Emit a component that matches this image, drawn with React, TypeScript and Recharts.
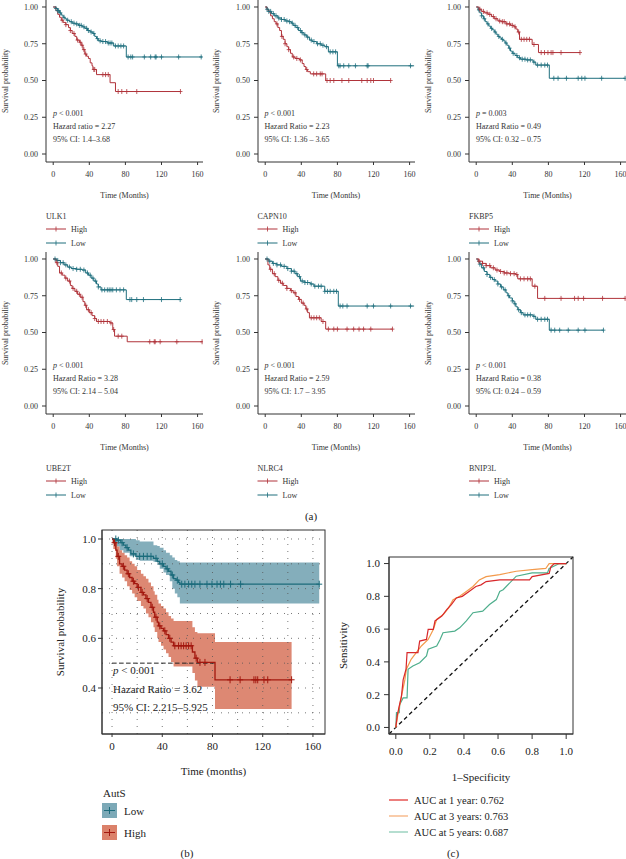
import React from 'react';
import { ComposedChart, Line, Scatter, Area, XAxis, YAxis, ReferenceLine } from 'recharts';

const SERIF = "'Liberation Serif', 'DejaVu Serif', 'Times New Roman', serif";
const RED = '#B0333A';
const TEAL = '#1E6E7D';
const B_RED = '#A3180F';
const B_TEAL = '#1B6B7B';
const B_RED_FILL = '#D7735A';
const B_TEAL_FILL = '#6EA0AF';
const ROC_COLORS = ['#D8282B', '#F39A4B', '#4EAE8C'];
const ROC_KEY_COLORS = ['#E23A36', '#F6B07C', '#8DCDB7'];

const kmTicksX = [0, 40, 80, 120, 160];
const kmTicksY = [0, 0.25, 0.5, 0.75, 1];
const bTicksY = [0.4, 0.6, 0.8, 1.0];
const bGridX = [0, 20, 40, 60, 80, 100, 120, 140, 160];
const bGridY = [0.3, 0.4, 0.5, 0.6, 0.7, 0.8, 0.9, 1.0];
const rocTicks = [0, 0.2, 0.4, 0.6, 0.8, 1.0];

// ---- ULK1 ----
const ulk1HighT = [0, 3, 5, 7, 9, 11, 14, 17, 19, 21, 24, 26, 29, 31, 33, 35, 37, 39, 41, 43, 44, 48, 63, 69, 141];
const ulk1HighS = [1, 0.975, 0.95, 0.93, 0.91, 0.895, 0.88, 0.86, 0.84, 0.82, 0.8, 0.775, 0.76, 0.74, 0.71, 0.68, 0.665, 0.65, 0.62, 0.6, 0.575, 0.54, 0.485, 0.425, 0.425];
const ulk1LowT = [0, 3, 5, 7, 9, 11, 13, 15, 18, 21, 24, 28, 32, 35, 38, 41, 44, 46, 48, 50, 53, 60, 67, 81, 165];
const ulk1LowS = [1, 0.99, 0.975, 0.96, 0.945, 0.93, 0.92, 0.91, 0.9, 0.89, 0.885, 0.875, 0.865, 0.855, 0.84, 0.83, 0.82, 0.8, 0.785, 0.77, 0.765, 0.755, 0.735, 0.66, 0.66];
const ulk1HighC = [10, 14, 19, 23, 27, 30, 32, 34, 36, 45, 46, 55, 58, 61, 72, 76, 81.5, 92.6, 141];
const ulk1LowC = [3, 5, 6, 8, 12, 16, 20, 23, 26, 29, 31, 34, 37, 39, 42, 45, 49, 52, 55, 58, 61, 63, 65, 69, 72, 75, 78, 83, 86, 88, 101, 108, 113, 114, 120, 139, 164];

// ---- CAPN10 ----
const capnHighT = [0, 2, 4, 6, 8, 10, 12, 14, 16, 18, 20, 22, 24, 26, 28, 30, 33, 38, 41, 43, 45, 47, 50, 67, 139];
const capnHighS = [1, 0.98, 0.965, 0.94, 0.92, 0.9, 0.885, 0.86, 0.84, 0.8, 0.78, 0.75, 0.73, 0.71, 0.685, 0.66, 0.65, 0.64, 0.615, 0.595, 0.575, 0.56, 0.545, 0.5, 0.5];
const capnLowT = [0, 2, 4, 7, 10, 14, 18, 22, 26, 29, 31, 34, 37, 40, 43, 46, 49, 52, 57, 62, 66, 70, 80, 165];
const capnLowS = [1, 0.985, 0.97, 0.955, 0.94, 0.925, 0.915, 0.905, 0.9, 0.89, 0.875, 0.86, 0.84, 0.825, 0.81, 0.795, 0.775, 0.765, 0.75, 0.74, 0.73, 0.695, 0.6, 0.6];
const capnHighC = [13, 18.5, 22, 26, 31.5, 35, 39, 46, 53.7, 57, 61, 63, 68.5, 72, 76, 85, 92.6, 107, 113, 117, 120, 139];
const capnLowC = [2, 4, 6, 9, 12, 15, 18, 21, 24, 27, 30, 33, 36, 39, 41, 44, 47, 51, 54, 58, 61, 64, 68, 72, 75, 78, 81.5, 83, 87, 92.6, 100, 113, 114, 161];

// ---- FKBP5 ----
const fkbpHighT = [0, 3, 6, 9, 13, 17, 20, 24, 28, 33, 38, 42, 44, 46, 48, 62, 69, 115];
const fkbpHighS = [1, 0.985, 0.97, 0.96, 0.95, 0.935, 0.92, 0.905, 0.9, 0.885, 0.875, 0.865, 0.85, 0.83, 0.78, 0.745, 0.69, 0.69];
const fkbpLowT = [0, 2, 4, 6, 8, 10, 12, 14, 16, 18, 20, 22, 24, 26, 28, 30, 32, 34, 36, 38, 40, 43, 46, 49, 55, 63, 66, 81, 165];
const fkbpLowS = [1, 0.98, 0.96, 0.94, 0.92, 0.9, 0.885, 0.87, 0.855, 0.845, 0.83, 0.815, 0.8, 0.79, 0.78, 0.77, 0.755, 0.74, 0.72, 0.7, 0.685, 0.67, 0.655, 0.645, 0.64, 0.625, 0.605, 0.515, 0.515];
const fkbpHighC = [4, 8, 12, 15, 19, 22, 26, 29, 31, 34, 37, 40, 43, 47, 50, 53, 56, 59, 64, 72, 75.7, 79.5, 83, 85, 94, 115];
const fkbpLowC = [3, 6, 9, 13, 17, 21, 25, 29, 33, 37, 41, 45, 48, 51, 54, 57, 60, 64, 68, 72, 76, 79, 86, 90.7, 100, 113, 117, 120.5, 139, 165];

// ---- UBE2T ----
const ubeHighT = [0, 3, 5, 7, 10, 13, 16, 19, 21, 24, 27, 30, 33, 35, 37, 40, 43, 46, 48, 63, 66, 68, 82, 165];
const ubeHighS = [1, 0.975, 0.95, 0.905, 0.89, 0.87, 0.85, 0.82, 0.8, 0.78, 0.76, 0.74, 0.71, 0.685, 0.655, 0.635, 0.615, 0.595, 0.575, 0.565, 0.52, 0.475, 0.437, 0.437];
const ubeLowT = [0, 4, 8, 12, 16, 20, 26, 32, 36, 39, 42, 45, 48, 50, 53, 81, 141];
const ubeLowS = [1, 0.99, 0.975, 0.96, 0.945, 0.935, 0.93, 0.925, 0.905, 0.89, 0.87, 0.85, 0.83, 0.81, 0.79, 0.724, 0.724];
const ubeHighC = [4, 9, 14, 18, 22, 26, 29, 32, 36, 39, 42, 46, 50, 53, 56, 60, 64, 67, 72, 76, 107, 112, 113, 118.5, 137, 165];
const ubeLowC = [2, 5, 8, 11, 14, 18, 22, 26, 30, 34, 38, 41, 44, 47, 50, 54, 57, 60, 62, 64, 66, 70, 74, 78, 85, 87, 92.6, 100, 120, 140.7];

// ---- NLRC4 ----
const nlrcHighT = [0, 3, 5, 8, 11, 14, 17, 20, 24, 28, 31, 34, 37, 40, 43, 45, 47, 49, 62, 67, 141];
const nlrcHighS = [1, 0.96, 0.93, 0.9, 0.88, 0.855, 0.835, 0.82, 0.8, 0.785, 0.77, 0.745, 0.725, 0.7, 0.685, 0.66, 0.635, 0.6, 0.575, 0.523, 0.523];
const nlrcLowT = [0, 4, 8, 13, 18, 24, 29, 33, 36, 39, 44, 50, 54, 66, 81, 165];
const nlrcLowS = [1, 0.985, 0.97, 0.96, 0.95, 0.935, 0.917, 0.9, 0.88, 0.85, 0.84, 0.83, 0.815, 0.78, 0.68, 0.68];
const nlrcHighC = [6, 10, 15, 19, 24, 29, 33, 38, 42, 46, 51, 54, 57, 60, 64, 70, 76, 80, 90.7, 98, 104, 109, 117, 141];
const nlrcLowC = [2, 5, 9, 13, 17, 21, 25, 29, 32, 35, 38, 41, 44, 47, 51, 55, 59, 62, 66, 69, 72, 76, 79, 83, 86, 90.7, 113, 120, 139, 161];

// ---- BNIP3L ----
const bnipHighT = [0, 3, 7, 11, 16, 21, 26, 31, 37, 44, 46, 62, 68, 165];
const bnipHighS = [1, 0.985, 0.97, 0.955, 0.94, 0.925, 0.915, 0.905, 0.9, 0.894, 0.865, 0.815, 0.732, 0.732];
const bnipLowT = [0, 2, 4, 6, 9, 12, 15, 18, 21, 24, 27, 30, 33, 35, 37, 40, 42, 44, 46, 49, 52, 63, 66, 81, 141];
const bnipLowS = [1, 0.98, 0.965, 0.94, 0.915, 0.895, 0.875, 0.86, 0.85, 0.83, 0.81, 0.79, 0.77, 0.75, 0.735, 0.715, 0.695, 0.675, 0.655, 0.635, 0.62, 0.61, 0.59, 0.516, 0.516];
const bnipHighC = [3, 7, 11, 15, 19, 23, 27, 31, 34, 38, 42, 45, 49, 53, 57, 60, 65, 76, 94, 109, 113, 119, 140, 165];
const bnipLowC = [4, 8, 12, 16, 20, 24, 28, 32, 36, 40, 43, 47, 50, 54, 57, 60, 64, 68, 72, 76, 79, 83, 87, 92.5, 102, 113, 120.5, 141];

// ---- AutS (panel b) ----
const autsLowT = [0, 4, 7, 9, 11, 13, 15, 19, 33, 36, 38, 41, 43, 45, 47, 49, 51, 53, 54, 165];
const autsLowS = [1, 0.995, 0.985, 0.975, 0.965, 0.955, 0.94, 0.93, 0.922, 0.91, 0.9, 0.89, 0.88, 0.87, 0.855, 0.84, 0.834, 0.825, 0.818, 0.818];
const autsLowBandT = [0, 3, 6, 9, 14, 19, 22, 33, 36, 38, 41, 43, 46, 48, 50, 52, 54, 165];
const autsLowBandLo = [1, 0.97, 0.955, 0.945, 0.93, 0.915, 0.912, 0.908, 0.895, 0.88, 0.865, 0.855, 0.83, 0.8, 0.78, 0.765, 0.74, 0.74];
const autsLowBandHi = [1, 1, 1, 1, 1, 0.995, 0.99, 0.975, 0.972, 0.965, 0.955, 0.945, 0.935, 0.925, 0.915, 0.91, 0.905, 0.905];
const autsHighT = [0, 1, 3, 4, 6, 8, 10, 12, 14, 16, 18, 20, 23, 25, 27, 29, 31, 33, 34, 36, 37, 39, 41, 43, 45, 47, 49, 64, 66, 68, 82, 143];
const autsHighS = [1, 0.985, 0.955, 0.93, 0.9, 0.89, 0.875, 0.86, 0.845, 0.83, 0.82, 0.805, 0.785, 0.775, 0.76, 0.745, 0.725, 0.705, 0.685, 0.665, 0.65, 0.64, 0.63, 0.615, 0.6, 0.585, 0.57, 0.545, 0.52, 0.503, 0.433, 0.433];
const autsHighHi = [1, 1, 0.985, 0.97, 0.955, 0.945, 0.935, 0.925, 0.91, 0.9, 0.89, 0.875, 0.86, 0.85, 0.84, 0.825, 0.81, 0.79, 0.775, 0.755, 0.74, 0.73, 0.72, 0.705, 0.69, 0.68, 0.67, 0.645, 0.625, 0.62, 0.585, 0.585];
const autsHighLo = [1, 0.96, 0.92, 0.89, 0.86, 0.845, 0.83, 0.81, 0.795, 0.78, 0.765, 0.75, 0.73, 0.72, 0.7, 0.685, 0.665, 0.645, 0.625, 0.6, 0.585, 0.57, 0.555, 0.54, 0.525, 0.505, 0.487, 0.46, 0.43, 0.405, 0.315, 0.315];
const autsLowC = [3, 5, 8, 12, 17, 22, 25, 28, 31, 35, 40, 44, 48, 52, 55.5, 58, 61, 63.5, 66, 70, 75.6, 79.6, 83.6, 86.3, 89, 94.4, 102.4, 165];
const autsHighC = [2, 5, 9, 13, 17, 21, 24, 28, 32, 35, 38, 42, 46, 50, 53, 55, 57, 59, 61, 63, 67, 70, 74, 94, 102, 113, 114.5, 116, 121, 124, 143];
const autsMedian = 81;

// ---- ROC (panel c) ----
const roc1F = [0, 0.008, 0.02, 0.033, 0.043, 0.06, 0.066, 0.13, 0.14, 0.18, 0.19, 0.22, 0.23, 0.27, 0.3, 0.326, 0.355, 0.39, 0.43, 0.47, 0.5, 0.53, 0.61, 0.785, 0.8, 0.9, 0.91, 0.93, 1];
const roc1T = [0, 0.07, 0.13, 0.19, 0.29, 0.355, 0.456, 0.456, 0.527, 0.537, 0.598, 0.598, 0.65, 0.68, 0.72, 0.75, 0.79, 0.8, 0.83, 0.86, 0.87, 0.89, 0.9, 0.9, 0.92, 0.94, 0.98, 1.0, 1];
const roc3F = [0, 0.014, 0.033, 0.053, 0.062, 0.09, 0.12, 0.15, 0.19, 0.22, 0.24, 0.28, 0.31, 0.336, 0.375, 0.414, 0.453, 0.49, 0.53, 0.61, 0.707, 0.8, 0.88, 0.9, 1];
const roc3T = [0, 0.09, 0.19, 0.29, 0.355, 0.416, 0.456, 0.497, 0.537, 0.598, 0.66, 0.69, 0.73, 0.78, 0.8, 0.83, 0.86, 0.9, 0.92, 0.933, 0.953, 0.963, 0.97, 1.0, 1];
const roc5F = [0, 0.004, 0.02, 0.023, 0.043, 0.066, 0.072, 0.1, 0.14, 0.18, 0.19, 0.24, 0.26, 0.277, 0.346, 0.375, 0.414, 0.453, 0.51, 0.55, 0.59, 0.61, 0.63, 0.707, 0.8, 0.89, 0.9, 0.96, 1];
const roc5T = [0, 0.09, 0.09, 0.14, 0.18, 0.18, 0.355, 0.375, 0.395, 0.436, 0.477, 0.497, 0.537, 0.578, 0.588, 0.608, 0.65, 0.7, 0.71, 0.75, 0.78, 0.83, 0.84, 0.923, 0.943, 0.943, 0.97, 1.0, 1];
const rocLabels = ['AUC at 1 year: 0.762', 'AUC at 3 years: 0.763', 'AUC at 5 years: 0.687'];

// ---- helpers ----
const pts = (ts: number[], ss: number[]) => ts.map((t, i) => ({ t, s: ss[i] }));
const stepAt = (ts: number[], ss: number[], t: number) => {
  let v = ss[0];
  for (let i = 0; i < ts.length; i++) if (ts[i] <= t) v = ss[i];
  return v;
};
const censor = (ts: number[], ss: number[], cs: number[]) => cs.map((t) => ({ t, s: stepAt(ts, ss, t) }));

const crossShape = (color: string, w: number, h: number, sw: number) => (props: any) => {
  const { cx, cy } = props;
  if (cx == null || cy == null || isNaN(cx) || isNaN(cy)) return <g />;
  return (
    <path d={`M${cx - w},${cy}L${cx + w},${cy}M${cx},${cy - h}L${cx},${cy + h}`} stroke={color} strokeWidth={sw} fill="none" />
  );
};

const panels = [
  { gene: 'ULK1', col: 0, row: 0, hT: ulk1HighT, hS: ulk1HighS, lT: ulk1LowT, lS: ulk1LowS, hC: ulk1HighC, lC: ulk1LowC, p: '< 0.001', hr: 'Hazard ratio = 2.27', ci: '95% CI: 1.4–3.68' },
  { gene: 'CAPN10', col: 1, row: 0, hT: capnHighT, hS: capnHighS, lT: capnLowT, lS: capnLowS, hC: capnHighC, lC: capnLowC, p: '< 0.001', hr: 'Hazard Ratio = 2.23', ci: '95% CI: 1.36 – 3.65' },
  { gene: 'FKBP5', col: 2, row: 0, hT: fkbpHighT, hS: fkbpHighS, lT: fkbpLowT, lS: fkbpLowS, hC: fkbpHighC, lC: fkbpLowC, p: '= 0.003', hr: 'Hazard Ratio = 0.49', ci: '95% CI: 0.32 – 0.75' },
  { gene: 'UBE2T', col: 0, row: 1, hT: ubeHighT, hS: ubeHighS, lT: ubeLowT, lS: ubeLowS, hC: ubeHighC, lC: ubeLowC, p: '< 0.001', hr: 'Hazard Ratio = 3.28', ci: '95% CI: 2.14 – 5.04' },
  { gene: 'NLRC4', col: 1, row: 1, hT: nlrcHighT, hS: nlrcHighS, lT: nlrcLowT, lS: nlrcLowS, hC: nlrcHighC, lC: nlrcLowC, p: '< 0.001', hr: 'Hazard Ratio = 2.59', ci: '95% CI: 1.7 – 3.95' },
  { gene: 'BNIP3L', col: 2, row: 1, hT: bnipHighT, hS: bnipHighS, lT: bnipLowT, lS: bnipLowS, hC: bnipHighC, lC: bnipLowC, p: '< 0.001', hr: 'Hazard Ratio = 0.38', ci: '95% CI: 0.24 – 0.59' },
];

const COL_X = [0, 211.5, 423];
const ROW_Y = [0, 252];
const KM_W = 212;
const KM_H = 185;
const KM_PL = 46;
const KM_PW = 157;
const KM_PH = 162;
const AX = '#333';

const kmTick = { fontSize: 8, fill: '#333', fontFamily: SERIF };

function KMChart({ p }: { p: any }) {
  const hi = pts(p.hT, p.hS);
  const lo = pts(p.lT, p.lS);
  const hc = censor(p.hT, p.hS, p.hC);
  const lc = censor(p.lT, p.lS, p.lC);
  return (
    <div style={{ position: 'absolute', left: COL_X[p.col], top: ROW_Y[p.row], width: KM_W, height: KM_H }}>
      <ComposedChart width={KM_W} height={KM_H} margin={{ top: 0, right: KM_W - KM_PL - KM_PW, bottom: KM_H - KM_PH - 20, left: 0 }}>
        <XAxis type="number" dataKey="t" domain={[-8, 166]} allowDataOverflow ticks={kmTicksX} interval={0} height={20}
          tickSize={3} tickMargin={6} stroke={AX} tick={kmTick} />
        <YAxis type="number" dataKey="s" domain={[-0.0544, 1.0476]} allowDataOverflow ticks={kmTicksY} interval={0} width={KM_PL}
          tickSize={4} tickMargin={4} stroke={AX} tick={kmTick} tickFormatter={(v: number) => v.toFixed(2)} />
        <Line data={lo} dataKey="s" type="stepAfter" stroke={TEAL} strokeWidth={1} dot={false} isAnimationActive={false} />
        <Line data={hi} dataKey="s" type="stepAfter" stroke={RED} strokeWidth={1} dot={false} isAnimationActive={false} />
        <Scatter data={lc} dataKey="s" shape={crossShape(TEAL, 2, 2.5, 0.8)} isAnimationActive={false} />
        <Scatter data={hc} dataKey="s" shape={crossShape(RED, 2, 2.5, 0.8)} isAnimationActive={false} />
      </ComposedChart>
    </div>
  );
}

function KMText({ p }: { p: any }) {
  const x0 = COL_X[p.col];
  const y0 = ROW_Y[p.row];
  const fs = 8;
  const c = '#333';
  return (
    <g fontFamily={SERIF} fill={c}>
      <text x={x0 + 5} y={y0 + 81} fontSize={fs} textAnchor="middle" dominantBaseline="central" transform={`rotate(-90 ${x0 + 5} ${y0 + 81})`}>Survival probability</text>
      <text x={x0 + 53} y={y0 + 113} fontSize={fs} dominantBaseline="central"><tspan fontStyle="italic">p</tspan> {p.p}</text>
      <text x={x0 + 53} y={y0 + 126} fontSize={fs} dominantBaseline="central">{p.hr}</text>
      <text x={x0 + 53} y={y0 + 139} fontSize={fs} dominantBaseline="central">{p.ci}</text>
      <text x={x0 + KM_PL + KM_PW / 2} y={y0 + 195} fontSize={fs} textAnchor="middle" dominantBaseline="central">Time (Months)</text>
      <text x={x0 + 46} y={y0 + 216} fontSize={fs} dominantBaseline="central">{p.gene}</text>
      <line x1={x0 + 46} x2={x0 + 66} y1={y0 + 229} y2={y0 + 229} stroke={RED} strokeWidth={1} />
      <line x1={x0 + 56} x2={x0 + 56} y1={y0 + 226.5} y2={y0 + 231.5} stroke={RED} strokeWidth={0.8} />
      <text x={x0 + 71} y={y0 + 229} fontSize={fs} dominantBaseline="central">High</text>
      <line x1={x0 + 46} x2={x0 + 66} y1={y0 + 243} y2={y0 + 243} stroke={TEAL} strokeWidth={1} />
      <line x1={x0 + 56} x2={x0 + 56} y1={y0 + 240.5} y2={y0 + 245.5} stroke={TEAL} strokeWidth={0.8} />
      <text x={x0 + 71} y={y0 + 243} fontSize={fs} dominantBaseline="central">Low</text>
    </g>
  );
}

const bigTick = { fontSize: 11, fill: '#222', fontFamily: SERIF };

function PanelB() {
  const low = pts(autsLowT, autsLowS);
  const high = pts(autsHighT, autsHighS);
  const lowBand = autsLowBandT.map((t, i) => ({ t, band: [autsLowBandLo[i], autsLowBandHi[i]] }));
  const highBand = autsHighT.map((t, i) => ({ t, band: [autsHighLo[i], autsHighHi[i]] }));
  const lc = censor(autsLowT, autsLowS, autsLowC);
  const hc = censor(autsHighT, autsHighS, autsHighC);
  return (
    <div style={{ position: 'absolute', left: 0, top: 520, width: 330, height: 240 }}>
      <ComposedChart width={330} height={240} margin={{ top: 10, right: 5, bottom: 0, left: 0 }}>
        <XAxis type="number" dataKey="t" domain={[-8, 169.6]} allowDataOverflow ticks={kmTicksX} interval={0} height={26}
          tickSize={3} tickMargin={5} stroke={AX} tick={bigTick} />
        <YAxis type="number" dataKey="s" domain={[0.2147, 1.0362]} allowDataOverflow ticks={bTicksY} interval={0} width={102}
          tickSize={4} tickMargin={2} stroke={AX} tick={bigTick} tickFormatter={(v: number) => v.toFixed(1)} />
        {bGridX.map((v) => (
          <ReferenceLine key={'gx' + v} x={v} stroke="#555" strokeWidth={0.8} strokeDasharray="1 6" />
        ))}
        {bGridY.map((v) => (
          <ReferenceLine key={'gy' + v} y={v} stroke="#555" strokeWidth={0.8} strokeDasharray="1 6" />
        ))}
        <Area data={lowBand} dataKey="band" type="stepAfter" stroke="none" fill={B_TEAL_FILL} fillOpacity={0.85} isAnimationActive={false} />
        <Area data={highBand} dataKey="band" type="stepAfter" stroke="none" fill={B_RED_FILL} fillOpacity={0.85} isAnimationActive={false} />
        <ReferenceLine segment={[{ x: 0, y: 0.5 }, { x: autsMedian, y: 0.5 }]} stroke="#222" strokeWidth={1} strokeDasharray="4 3" />
        <Line data={low} dataKey="s" type="stepAfter" stroke={B_TEAL} strokeWidth={1.3} dot={false} isAnimationActive={false} />
        <Line data={high} dataKey="s" type="stepAfter" stroke={B_RED} strokeWidth={1.3} dot={false} isAnimationActive={false} />
        <Scatter data={lc} dataKey="s" shape={crossShape(B_TEAL, 3, 3.5, 1)} isAnimationActive={false} />
        <Scatter data={hc} dataKey="s" shape={crossShape(B_RED, 3, 3.5, 1)} isAnimationActive={false} />
      </ComposedChart>
    </div>
  );
}

function PanelC() {
  const series = [
    roc1F.map((f, i) => ({ f, tp: roc1T[i] })),
    roc3F.map((f, i) => ({ f, tp: roc3T[i] })),
    roc5F.map((f, i) => ({ f, tp: roc5T[i] })),
  ];
  return (
    <div style={{ position: 'absolute', left: 330, top: 520, width: 296, height: 240 }}>
      <ComposedChart width={296} height={240} margin={{ top: 37, right: 53, bottom: 0, left: 0 }}>
        <XAxis type="number" dataKey="f" domain={[-0.04, 1.04]} allowDataOverflow ticks={rocTicks} interval={0} height={26}
          tickSize={5} tickMargin={8} stroke={AX} tick={bigTick} tickFormatter={(v: number) => v.toFixed(1)} />
        <YAxis type="number" domain={[-0.04, 1.04]} allowDataOverflow ticks={rocTicks} interval={0} width={59}
          tickSize={5} tickMargin={4} stroke={AX} tick={bigTick} tickFormatter={(v: number) => v.toFixed(1)} />
        <ReferenceLine segment={[{ x: -0.04, y: -0.04 }, { x: 1.04, y: 1.04 }]} stroke="#111" strokeWidth={1.3} strokeDasharray="4 3" />
        {[2, 1, 0].map((k) => (
          <Line key={k} data={series[k]} dataKey="tp" type="linear" stroke={ROC_COLORS[k]} strokeWidth={1.2} dot={false} isAnimationActive={false} />
        ))}
      </ComposedChart>
    </div>
  );
}

function Overlay() {
  return (
    <svg width={626} height={859} style={{ position: 'absolute', left: 0, top: 0, pointerEvents: 'none' }}>
      {panels.map((p) => (
        <KMText key={p.gene} p={p} />
      ))}
      <g fontFamily={SERIF} fill="#222">
        <text x={311} y={516} fontSize={11} textAnchor="middle" dominantBaseline="central">(a)</text>
        {/* panel b */}
        <rect x={102} y={530} width={223} height={204} fill="none" stroke={AX} strokeWidth={1} />
        <text x={113} y={670} fontSize={11} dominantBaseline="central"><tspan fontStyle="italic">p</tspan> &lt; 0.001</text>
        <text x={113} y={688.5} fontSize={11} dominantBaseline="central">Hazard Ratio = 3.62</text>
        <text x={113} y={707} fontSize={11} dominantBaseline="central">95% CI: 2.215–5.925</text>
        <text x={60} y={632} fontSize={11} textAnchor="middle" dominantBaseline="central" transform="rotate(-90 60 632)">Survival probability</text>
        <text x={213.5} y={771} fontSize={11} textAnchor="middle" dominantBaseline="central">Time (months)</text>
        <text x={103} y={793} fontSize={11} dominantBaseline="central">AutS</text>
        <rect x={102} y={803} width={15} height={15} fill={B_TEAL_FILL} opacity={0.9} />
        <line x1={104} x2={115} y1={810.5} y2={810.5} stroke={B_TEAL} strokeWidth={1} />
        <line x1={109.5} x2={109.5} y1={807} y2={814} stroke={B_TEAL} strokeWidth={1} />
        <text x={124} y={810.5} fontSize={11} dominantBaseline="central">Low</text>
        <rect x={102} y={825} width={15} height={15} fill={B_RED_FILL} opacity={0.9} />
        <line x1={104} x2={115} y1={832.5} y2={832.5} stroke={B_RED} strokeWidth={1} />
        <line x1={109.5} x2={109.5} y1={829} y2={836} stroke={B_RED} strokeWidth={1} />
        <text x={124} y={832.5} fontSize={11} dominantBaseline="central">High</text>
        <text x={187} y={853} fontSize={11} textAnchor="middle" dominantBaseline="central">(b)</text>
        {/* panel c */}
        <rect x={389} y={557} width={184} height={177} fill="none" stroke={AX} strokeWidth={1} />
        <text x={343} y={645.5} fontSize={11} textAnchor="middle" dominantBaseline="central" transform="rotate(-90 343 645.5)">Sensitivity</text>
        <text x={481} y={777} fontSize={11} textAnchor="middle" dominantBaseline="central">1–Specificity</text>
        {rocLabels.map((lab, i) => (
          <g key={lab}>
            <line x1={389} x2={408} y1={800 + i * 16} y2={800 + i * 16} stroke={ROC_KEY_COLORS[i]} strokeWidth={1.3} />
            <text x={414} y={800 + i * 16} fontSize={10.5} dominantBaseline="central">{lab}</text>
          </g>
        ))}
        <text x={453} y={853} fontSize={11} textAnchor="middle" dominantBaseline="central">(c)</text>
      </g>
    </svg>
  );
}

export default function App() {
  return (
    <div style={{ position: 'absolute', left: 0, top: 0, width: 626, height: 859, overflow: 'hidden', background: '#fff', fontFamily: SERIF }}>
      {panels.map((p) => (
        <KMChart key={p.gene} p={p} />
      ))}
      <PanelB />
      <PanelC />
      <Overlay />
    </div>
  );
}
